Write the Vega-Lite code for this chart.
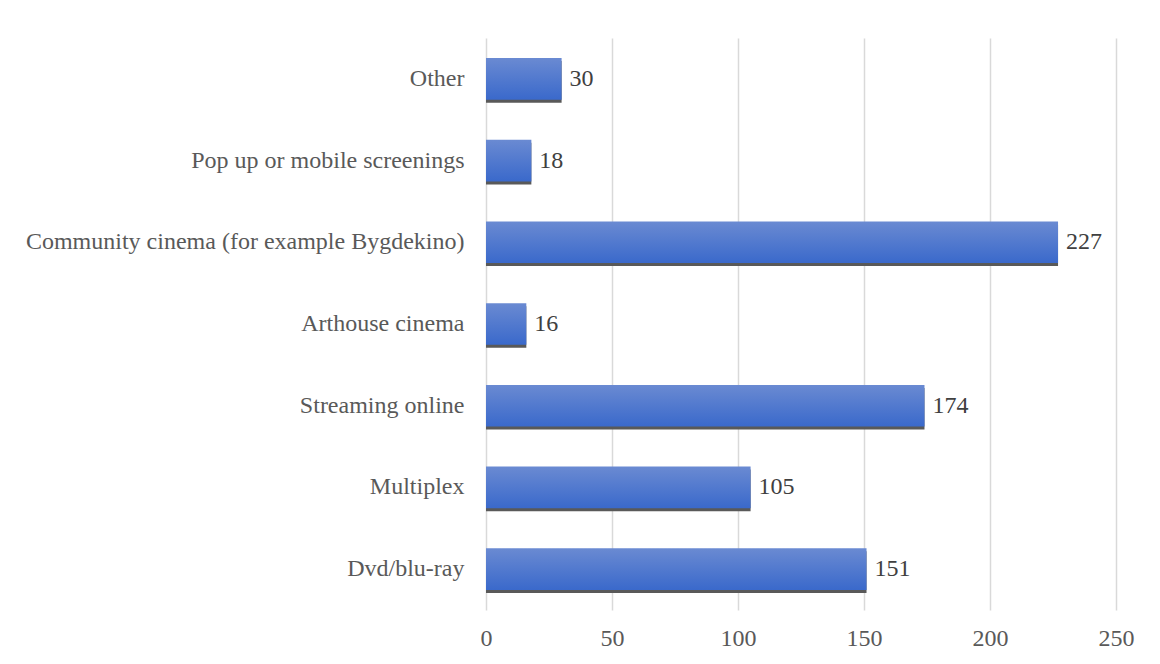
{
  "$schema": "https://vega.github.io/schema/vega-lite/v6.json",
  "autosize": {"type": "none"},
  "padding": {"left": 486, "top": 38, "right": 44, "bottom": 54},
  "width": 630,
  "height": 572,
  "background": "white",
  "data": {"values": [
    {"category": "Other", "count": 30},
    {"category": "Pop up or mobile screenings", "count": 18},
    {"category": "Community cinema (for example Bygdekino)", "count": 227},
    {"category": "Arthouse cinema", "count": 16},
    {"category": "Streaming online", "count": 174},
    {"category": "Multiplex", "count": 105},
    {"category": "Dvd/blu-ray\u00a0", "count": 151}
  ]},
  "encoding": {
    "y": {"field": "category", "type": "nominal", "sort": null,
      "scale": {"paddingInner": 0.49, "paddingOuter": 0.245},
      "axis": {"title": null, "domain": false, "ticks": false, "labelPadding": 22,
        "labelFont": "Liberation Serif", "labelFontSize": 24, "labelColor": "#595959", "labelLimit": 600}},
    "x": {"field": "count", "type": "quantitative",
      "scale": {"domain": [0, 250], "nice": false},
      "axis": {"title": null, "values": [0, 50, 100, 150, 200, 250], "domain": false, "ticks": false,
        "labelPadding": 16, "labelFont": "Liberation Serif", "labelFontSize": 24, "labelColor": "#595959",
        "labelFlush": false,
        "grid": true, "gridColor": "#d9d9d9", "gridWidth": 1.5}}
  },
  "layer": [
    {"mark": {"type": "bar", "color": "#595959", "yOffset": 3}},
    {"mark": {"type": "bar", "yOffset": 0,
      "color": {"gradient": "linear", "x1": 0, "y1": 0, "x2": 0, "y2": 1,
        "stops": [{"offset": 0, "color": "#6a8ad2"}, {"offset": 1, "color": "#3a69cb"}]}}},
    {"mark": {"type": "text", "align": "left", "dx": 8, "font": "Liberation Serif", "fontSize": 24, "color": "#404040"},
      "encoding": {"text": {"field": "count", "type": "quantitative"}}}
  ],
  "config": {"view": {"stroke": null}}
}
